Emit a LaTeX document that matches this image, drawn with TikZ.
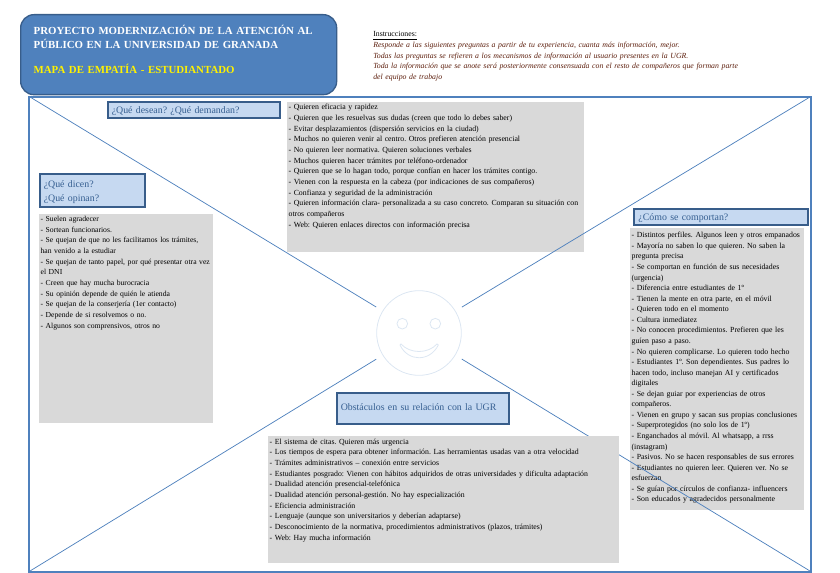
\documentclass[tikz,border=0pt]{standalone}
\usepackage{fontspec}
\setmainfont{Liberation Serif}
\definecolor{azul}{HTML}{4F81BD}
\definecolor{azuloscuro}{HTML}{385D8A}
\definecolor{azulclaro}{HTML}{C6D9F1}
\definecolor{azultexto}{HTML}{365F91}
\definecolor{gris}{HTML}{D9D9D9}
\definecolor{caracolor}{HTML}{DCE6F2}
\definecolor{instr}{HTML}{5C1E0C}

\begin{document}
\frenchspacing
\begin{tikzpicture}
  [x=0.75pt,y=-0.75pt,
   marco/.style={draw=azul,line width=1.1pt},
   diagonal/.style={draw=azul,line width=0.55pt},
   cabecera/.style={draw=azuloscuro,line width=1.2pt,fill=azulclaro,text=azultexto,
     anchor=north west,align=left,inner sep=0pt,font=\fontsize{7.4}{10.7}\selectfont},
   grisbox/.style={fill=gris,anchor=north west,align=left,inner xsep=1pt,inner ysep=0pt,
     font=\fontsize{5.85}{8}\selectfont},
   carabox/.style={circle,draw=caracolor,line width=0.6pt,minimum size=63.5pt,outer sep=5.8pt},
   ojo/.style={circle,draw=caracolor,line width=0.6pt,minimum size=8pt,inner sep=0pt},
   titulo/.style={rounded corners=10pt,fill=azul,draw=azuloscuro,line width=1pt,anchor=north west,
     align=left,inner xsep=9.75pt,inner ysep=9.4pt,text width=217.5pt,text height=5.5pt,text depth=35.7pt,
     text=white,font=\bfseries\fontsize{8.13}{10.5}\selectfont}]

  \useasboundingbox (0,0) rectangle (840,573);

  \coordinate (n1) at (30,97);
  \coordinate (n2) at (810,97);
  \coordinate (n3) at (30,571);
  \coordinate (n4) at (810,571);

  \draw[marco] (29,97) rectangle (811,572);

  \node[titulo] (titulo) at (20,14) {PROYECTO MODERNIZACIÓN DE LA ATENCIÓN AL\\
    PÚBLICO EN LA UNIVERSIDAD DE GRANADA\\[8.3pt]
    \textcolor{yellow}{MAPA DE EMPATÍA - ESTUDIANTADO}};

  \node[anchor=north west,align=left,inner sep=0pt,text width=280pt,text height=5pt,
    font=\fontsize{5.85}{7.95}\selectfont] (instrucciones) at (373,30) {\underline{Instrucciones:}\\
    \textcolor{instr}{\itshape Responde a las siguientes preguntas a partir de tu experiencia, cuanta más información, mejor.\\
    Todas las preguntas se refieren a los mecanismos de información al usuario presentes en la UGR.\\
    Toda la información que se anote será posteriormente consensuada con el resto de compañeros que forman parte\\
    del equipo de trabajo}};

  \node[grisbox,text width=220.75pt,text height=5.8pt,text depth=106.7pt] (desean) at (287,102) {%
    - Quieren eficacia y rapidez\\
    - Quieren que les resuelvas sus dudas (creen que todo lo debes saber)\\
    - Evitar desplazamientos (dispersión servicios en la ciudad)\\
    - Muchos no quieren venir al centro. Otros prefieren atención presencial\\
    - No quieren leer normativa. Quieren soluciones verbales\\
    - Muchos quieren hacer trámites por teléfono-ordenador\\
    - Quieren que se lo hagan todo, porque confían en hacer los trámites contigo.\\
    - Vienen con la respuesta en la cabeza (por indicaciones de sus compañeros)\\
    - Confianza y seguridad de la administración\\
    - Quieren información clara- personalizada a su caso concreto. Comparan su situación con\\
    otros compañeros\\
    - Web: Quieren enlaces directos con información precisa};

  \node[grisbox,text width=128.5pt,text height=5.5pt,text depth=151.25pt,
    font=\fontsize{5.75}{8}\selectfont] (dicen) at (39,214) {%
    - Suelen agradecer\\
    - Sortean funcionarios.\\
    - Se quejan de que no les facilitamos los trámites,\\
    han venido a la estudiar\\
    - Se quejan de tanto papel, por qué presentar otra vez\\
    el DNI\\
    - Creen que hay mucha burocracia\\
    - Su opinión depende de quién le atienda\\
    - Se quejan de la conserjería (1er contacto)\\
    - Depende de si resolvemos o no.\\
    - Algunos son comprensivos, otros no};

  \node[grisbox,text width=128.5pt,text height=7.2pt,text depth=204.3pt,
    font=\fontsize{5.85}{7.92}\selectfont] (comportan) at (630,228) {%
    - Distintos perfiles. Algunos leen y otros empanados\\
    - Mayoría no saben lo que quieren. No saben la\\
    pregunta precisa\\
    - Se comportan en función de sus necesidades\\
    (urgencia)\\
    - Diferencia entre estudiantes de 1º\\
    - Tienen la mente en otra parte, en el móvil\\
    - Quieren todo en el momento\\
    - Cultura inmediatez\\
    - No conocen procedimientos. Prefieren que les\\
    guíen paso a paso.\\
    - No quieren complicarse. Lo quieren todo hecho\\
    - Estudiantes 1º. Son dependientes. Sus padres lo\\
    hacen todo, incluso manejan AI y certificados\\
    digitales\\
    - Se dejan guiar por experiencias de otros\\
    compañeros.\\
    - Vienen en grupo y sacan sus propias conclusiones\\
    - Superprotegidos (no solo los de 1º)\\
    - Enganchados al móvil. Al whatsapp, a rrss\\
    (instagram)\\
    - Pasivos. No se hacen responsables de sus errores\\
    - Estudiantes no quieren leer. Quieren ver. No se\\
    esfuerzan\\
    - Se guían por círculos de confianza- influencers\\
    - Son educados y agradecidos personalmente};

  \node[carabox] (cara) at (419,333) {};
  \node[ojo] (ojo1) at (402.3,323.7) {};
  \node[ojo] (ojo2) at (435.3,323.7) {};
  \draw[draw=caracolor,line width=0.6pt] (400,345) .. controls (408,362) and (430,362) .. (438.3,345)
    -- (437,344) .. controls (428,354) and (410,354) .. (401,344) -- cycle;

  \foreach \from/\to in {n1/cara,n2/cara,n3/cara,n4/cara}
    \draw[diagonal] (\from) -- (\to);

  \node[grisbox,text width=261.25pt,text height=6pt,text depth=89.25pt] (obstaculos) at (268,436) {%
    - El sistema de citas. Quieren más urgencia\\
    - Los tiempos de espera para obtener información. Las herramientas usadas van a otra velocidad\\
    - Trámites administrativos – conexión entre servicios\\
    - Estudiantes posgrado: Vienen con hábitos adquiridos de otras universidades y dificulta adaptación\\
    - Dualidad atención presencial-telefónica\\
    - Dualidad atención personal-gestión. No hay especialización\\
    - Eficiencia administración\\
    - Lenguaje (aunque son universitarios y deberían adaptarse)\\
    - Desconocimiento de la normativa, procedimientos administrativos (plazos, trámites)\\
    - Web: Hay mucha información};

  \node[cabecera,inner xsep=3pt,text width=123pt,text height=7pt,text depth=2pt,inner ysep=1.5pt] (cab1) at (107,101) {¿Qué desean? ¿Qué demandan?};
  \node[cabecera,inner xsep=3pt,text width=72.75pt,text height=8pt,text depth=13pt,inner ysep=2pt] (cab2) at (39,173) {¿Qué dicen?\\¿Qué opinan?};
  \node[cabecera,inner xsep=3.5pt,text width=123.5pt,text height=7pt,text depth=2pt,inner ysep=1.5pt] (cab3) at (633,208) {¿Cómo se comportan?};
  \node[cabecera,inner xsep=3pt,text width=123pt,text height=11.5pt,text depth=7.75pt,inner ysep=2pt] (cab4) at (336,392) {Obstáculos en su relación con la UGR};
\end{tikzpicture}
\end{document}
